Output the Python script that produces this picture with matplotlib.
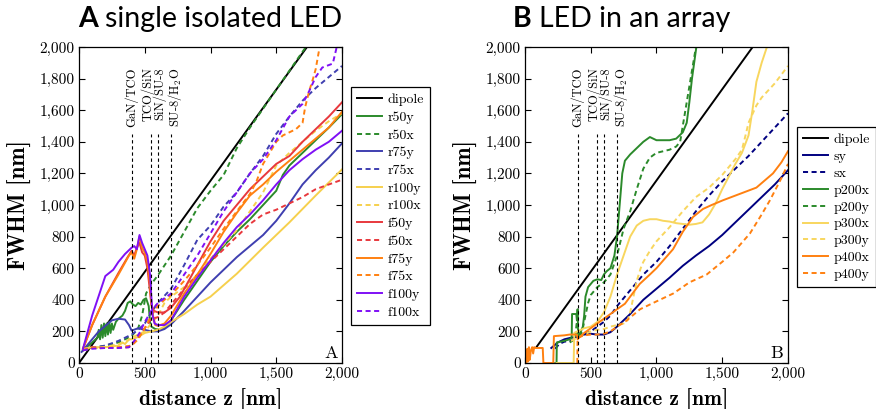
import matplotlib
matplotlib.use("Agg")
import matplotlib.pyplot as plt
from matplotlib.ticker import FuncFormatter, MultipleLocator

plt.rcParams['font.family'] = 'cmr10'
plt.rcParams['axes.formatter.use_mathtext'] = True
plt.rcParams['mathtext.fontset'] = 'cm'

GREEN = '#2b8a2b'
BLUE = '#3f3fb0'
YELLOW = '#f6d04d'
RED = '#e8383d'
ORANGE = '#ff8010'
PURPLE = '#7f10f5'
NAVY = '#000080'
LYELLOW = '#f8d65e'

# ---------------- panel A: single isolated LED ----------------
dipoleA_x = [0, 2000]
dipoleA_y = [0, 2307]

r50y_x = [30, 100, 140, 150, 160, 170, 180, 190, 200, 210, 220, 230, 240, 250, 260, 280, 300, 330, 350, 370,
          390, 410, 430, 450, 470, 490, 510, 530, 540, 550, 580, 620, 660, 700, 800, 900, 1000, 1100, 1200,
          1300, 1400, 1500, 1550, 1600, 1700, 1800, 1900, 2000]
r50y_y = [80, 130, 160, 210, 150, 240, 160, 250, 170, 250, 180, 260, 190, 250, 210, 260, 280, 300, 330, 380,
          390, 370, 360, 380, 370, 400, 410, 360, 260, 230, 215, 210, 230, 270, 400, 520, 640, 740, 830,
          910, 1000, 1090, 1190, 1250, 1330, 1410, 1490, 1575]
r50x_x = [30, 100, 200, 300, 400, 450, 480, 510, 550, 600, 700, 800, 900, 1000, 1100, 1200, 1300, 1400,
          1500, 1600, 1700, 1760]
r50x_y = [80, 95, 110, 130, 170, 220, 300, 440, 500, 555, 680, 830, 980, 1090, 1190, 1360, 1490, 1610,
          1730, 1850, 1970, 2040]
r75y_x = [20, 80, 150, 250, 300, 350, 380, 400, 450, 500, 550, 600, 650, 700, 800, 900, 1000, 1100, 1200,
          1300, 1400, 1500, 1600, 1700, 1800, 1900, 2000]
r75y_y = [70, 130, 200, 270, 280, 275, 240, 205, 220, 210, 200, 200, 215, 245, 330, 420, 510, 590, 670,
          740, 810, 900, 1010, 1130, 1220, 1300, 1390]
r75x_x = [30, 100, 200, 300, 400, 450, 500, 550, 600, 700, 800, 900, 1000, 1100, 1200, 1300, 1400, 1500,
          1600, 1700, 1800, 1900, 2000]
r75x_y = [85, 95, 110, 140, 180, 210, 250, 320, 380, 470, 620, 780, 870, 990, 1080, 1200, 1310, 1450,
          1560, 1660, 1740, 1810, 1880]
r100y_x = [40, 100, 200, 300, 330, 350, 380, 400, 450, 500, 550, 600, 650, 700, 800, 900, 1000, 1200,
           1400, 1600, 1800, 2000]
r100y_y = [90, 100, 100, 110, 130, 120, 150, 150, 165, 190, 200, 210, 230, 260, 310, 370, 420, 565,
           730, 890, 1060, 1225]
r100x_x = [40, 200, 350, 400, 500, 600, 650, 700, 800, 900, 1000, 1100, 1200, 1300, 1400, 1500, 1600,
           1700, 1800, 1900, 2000]
r100x_y = [90, 100, 130, 160, 200, 300, 380, 420, 480, 560, 660, 750, 840, 960, 1080, 1250, 1330,
           1400, 1470, 1530, 1580]
f50y_x = [30, 100, 200, 300, 370, 400, 420, 440, 460, 480, 500, 520, 540, 550, 570, 600, 650, 700, 768,
          900, 1000, 1100, 1200, 1300, 1400, 1500, 1600, 1700, 1800, 1900, 2000]
f50y_y = [90, 240, 420, 570, 670, 710, 680, 730, 760, 700, 680, 600, 450, 370, 330, 320, 320, 350, 420,
          620, 770, 900, 1000, 1100, 1180, 1260, 1310, 1400, 1480, 1560, 1650]
f50x_x = [30, 100, 200, 300, 380, 420, 460, 500, 550, 600, 650, 700, 800, 900, 1000, 1100, 1200, 1300,
          1400, 1500, 1600, 1700, 1800, 1900, 2000]
f50x_y = [80, 100, 95, 95, 100, 130, 170, 220, 280, 290, 320, 370, 470, 560, 640, 720, 800, 880,
          940, 970, 1010, 1050, 1100, 1130, 1160]
f75y_x = [30, 100, 200, 300, 380, 400, 420, 440, 460, 480, 500, 520, 540, 550, 565, 580, 600, 650, 700,
          800, 900, 1000, 1100, 1200, 1300, 1400, 1500, 1600, 1700, 1800, 1900, 2000]
f75y_y = [90, 240, 420, 560, 680, 700, 660, 720, 800, 730, 700, 640, 500, 380, 290, 240, 235, 250, 300,
          440, 560, 690, 830, 950, 1060, 1130, 1210, 1280, 1350, 1420, 1490, 1590]
f75x_x = [30, 100, 200, 300, 400, 450, 500, 550, 600, 650, 700, 800, 900, 1000, 1100, 1200, 1300, 1350,
          1400, 1450, 1500, 1550, 1600, 1650, 1700, 1720, 1750, 1780, 1800, 1830, 1850]
f75x_y = [80, 95, 95, 100, 110, 150, 220, 300, 360, 400, 430, 520, 620, 730, 850, 960, 1070, 1150,
          1260, 1330, 1400, 1440, 1460, 1480, 1520, 1620, 1720, 1800, 1860, 2000, 2100]
f100y_x = [30, 100, 200, 260, 300, 350, 400, 420, 440, 460, 480, 500, 520, 540, 550, 560, 575, 600, 650,
           700, 800, 900, 1000, 1100, 1200, 1300, 1400, 1500, 1600, 1700, 1800, 1900, 2000]
f100y_y = [90, 300, 550, 590, 640, 690, 730, 740, 720, 810, 760, 720, 680, 560, 420, 300, 250, 240, 240,
           270, 420, 540, 650, 760, 860, 940, 1030, 1130, 1220, 1290, 1350, 1400, 1470]
f100x_x = [30, 100, 200, 300, 380, 420, 460, 500, 550, 600, 650, 700, 800, 900, 1000, 1100, 1200, 1300,
           1400, 1500, 1600, 1700, 1750, 1800, 1850, 1930, 1960, 1980]
f100x_y = [80, 90, 95, 95, 100, 140, 190, 260, 330, 380, 410, 440, 560, 680, 820, 960, 1080, 1200,
           1290, 1410, 1560, 1640, 1720, 1810, 1870, 1895, 2000, 2100]

# ---------------- panel B: LED in an array ----------------
dipoleB_x = [90, 2000]
dipoleB_y = [104, 2310]

sy_x = [200, 250, 300, 350, 400, 450, 500, 550, 600, 650, 700, 750, 800, 900, 1000, 1100, 1200, 1300,
        1400, 1500, 1600, 1700, 1800, 1900, 2000]
sy_y = [95, 130, 150, 160, 165, 180, 185, 180, 180, 195, 230, 270, 310, 400, 470, 540, 615, 680,
        740, 810, 890, 970, 1050, 1130, 1220]
sx_x = [230, 260, 300, 350, 400, 450, 500, 550, 600, 650, 700, 750, 800, 900, 1000, 1100, 1200, 1300,
        1400, 1500, 1600, 1700, 1800, 1900, 2000]
sx_y = [90, 120, 135, 140, 160, 185, 200, 230, 260, 300, 360, 410, 460, 560, 640, 740, 850, 960,
        1060, 1150, 1230, 1310, 1400, 1490, 1580]
p200x_x = [230, 240, 242, 300, 340, 355, 358, 390, 395, 400, 405, 420, 440, 450, 460, 480, 500, 520, 550,
           580, 600, 620, 650, 680, 700, 720, 740, 760, 780, 800, 850, 900, 950, 1000, 1100, 1150, 1200,
           1230, 1250, 1270, 1300, 1320]
p200x_y = [0, 0, 130, 140, 150, 160, 310, 310, 270, 340, 170, 190, 230, 300, 420, 480, 500, 520, 530,
           525, 560, 580, 600, 680, 800, 1000, 1200, 1280, 1300, 1320, 1360, 1400, 1430, 1410, 1410, 1420,
           1460, 1520, 1650, 1800, 1980, 2100]
p200y_x = [340, 360, 380, 398, 402, 420, 440, 460, 480, 500, 550, 600, 650, 700, 750, 800, 850, 900, 950,
           1000, 1050, 1100, 1150, 1180, 1200, 1230, 1260, 1300]
p200y_y = [130, 140, 150, 290, 160, 170, 220, 300, 380, 430, 480, 510, 560, 680, 850, 960, 1100, 1230,
           1300, 1330, 1340, 1350, 1370, 1400, 1500, 1650, 1800, 2000]
p300x_x = [240, 370, 375, 400, 450, 500, 550, 600, 650, 700, 750, 800, 850, 900, 950, 1000, 1050, 1100,
           1150, 1200, 1250, 1300, 1350, 1400, 1450, 1500, 1550, 1600, 1650, 1700, 1730, 1760, 1800, 1840,
           1860]
p300x_y = [0, 0, 190, 200, 220, 230, 260, 320, 420, 560, 680, 800, 870, 900, 910, 910, 900, 895,
           885, 880, 875, 880, 890, 940, 1010, 1100, 1180, 1260, 1330, 1440, 1600, 1780, 1900, 2000,
           2050]
p300y_x = [350, 400, 450, 500, 550, 600, 650, 700, 750, 780, 800, 820, 850, 880, 900, 950, 1000, 1100,
           1200, 1300, 1400, 1500, 1600, 1650, 1680, 1700, 1760, 1800, 1900, 2000]
p300y_y = [140, 160, 180, 200, 210, 215, 230, 240, 250, 270, 320, 400, 520, 600, 640, 710, 770, 860,
           960, 1050, 1110, 1190, 1290, 1350, 1450, 1520, 1630, 1680, 1770, 1880]
p400x_x = [0, 8, 12, 18, 24, 30, 36, 45, 55, 62, 70, 80, 95, 135, 140, 215, 220, 300, 340, 395,
           400, 410, 450, 500, 550, 600, 650, 700, 760, 800, 872, 950, 1000, 1126, 1200, 1278, 1354,
           1420, 1506, 1633, 1760, 1886, 1950, 2000]
p400x_y = [0, 70, 5, 90, 10, 100, 20, 80, 100, 60, 100, 95, 95, 95, 0, 0, 170, 175, 180, 180,
           150, 160, 190, 220, 250, 280, 310, 340, 375, 420, 500, 560, 600, 720, 830, 924, 975,
           1000, 1030, 1070, 1110, 1200, 1270, 1340]
p400y_x = [398, 400, 450, 500, 550, 600, 650, 700, 760, 875, 1000, 1128, 1250, 1382, 1500, 1585, 1711,
           1800, 1863, 1950, 2000]
p400y_y = [0, 160, 175, 180, 180, 185, 200, 230, 260, 340, 390, 440, 510, 560, 640, 700, 820,
           940, 1030, 1170, 1260]

interfaces = [400, 550, 600, 700]
interface_names = ['GaN/TCO', 'TCO/SiN', 'SiN/SU-8', 'SU-8/H$_2$O']
name_pos = [398, 520, 612, 730]

DASH = (0, (2.6, 1.8))
LW = 1.4

fig = plt.figure(figsize=(8.76, 4.09), dpi=100)
axA = fig.add_axes([0.0902, 0.1125, 0.3002, 0.7726])
axB = fig.add_axes([0.5993, 0.1125, 0.3002, 0.7726])

seriesA = [
    (dipoleA_x, dipoleA_y, 'k', '-', 'dipole'),
    (r50y_x, r50y_y, GREEN, '-', 'r50y'),
    (r50x_x, r50x_y, GREEN, DASH, 'r50x'),
    (r75y_x, r75y_y, BLUE, '-', 'r75y'),
    (r75x_x, r75x_y, BLUE, DASH, 'r75x'),
    (r100y_x, r100y_y, YELLOW, '-', 'r100y'),
    (r100x_x, r100x_y, YELLOW, DASH, 'r100x'),
    (f50y_x, f50y_y, RED, '-', 'f50y'),
    (f50x_x, f50x_y, RED, DASH, 'f50x'),
    (f75y_x, f75y_y, ORANGE, '-', 'f75y'),
    (f75x_x, f75x_y, ORANGE, DASH, 'f75x'),
    (f100y_x, f100y_y, PURPLE, '-', 'f100y'),
    (f100x_x, f100x_y, PURPLE, DASH, 'f100x'),
]
seriesB = [
    (dipoleB_x, dipoleB_y, 'k', '-', 'dipole'),
    (sy_x, sy_y, NAVY, '-', 'sy'),
    (sx_x, sx_y, NAVY, DASH, 'sx'),
    (p200x_x, p200x_y, GREEN, '-', 'p200x'),
    (p200y_x, p200y_y, GREEN, DASH, 'p200y'),
    (p300x_x, p300x_y, LYELLOW, '-', 'p300x'),
    (p300y_x, p300y_y, LYELLOW, DASH, 'p300y'),
    (p400x_x, p400x_y, ORANGE, '-', 'p400x'),
    (p400y_x, p400y_y, ORANGE, DASH, 'p400y'),
]

comma = FuncFormatter(lambda v, p: '{:,.0f}'.format(v))

for ax, series, letter in [(axA, seriesA, 'A'), (axB, seriesB, 'B')]:
    for x, y, c, ls, lab in series:
        ax.plot(x, y, color=c, linestyle=ls, linewidth=LW, label=lab)
    for xi in interfaces:
        ax.plot([xi, xi], [0, 1450], color='k', linestyle=(0, (3, 2.5)), linewidth=0.8)
    for xp, name in zip(name_pos, interface_names):
        ax.text(xp, 1870, name, rotation=90, ha='center', va='top', fontsize=9,
                math_fontfamily='cm')
    ax.set_xlim(0, 2000)
    ax.set_ylim(0, 2000)
    ax.xaxis.set_major_locator(MultipleLocator(500))
    ax.yaxis.set_major_locator(MultipleLocator(200))
    ax.xaxis.set_major_formatter(comma)
    ax.yaxis.set_major_formatter(comma)
    ax.tick_params(direction='in', length=4, width=0.8, top=True, right=True, labelsize=11, pad=3)
    for s in ax.spines.values():
        s.set_linewidth(0.9)
    ax.set_xlabel('distance z [nm]', fontsize=15.5, family='cmb10')
    ax.set_ylabel('FWHM [nm]', fontsize=16.5, family='cmb10')
    ax.xaxis.set_label_coords(0.5, -0.078)
    ax.yaxis.set_label_coords(-0.18, 0.5)
    ax.xaxis.label.set_va('top')
    ax.text(0.983, 0.016, letter, transform=ax.transAxes, ha='right', va='baseline', fontsize=13)

legA = axA.legend(loc='upper left', bbox_to_anchor=(0.4007, 0.787), bbox_transform=fig.transFigure,
                  fontsize=10, handlelength=1.75, labelspacing=0.36, handletextpad=0.4,
                  borderpad=0.45, fancybox=False, edgecolor='k', framealpha=1, borderaxespad=0)
legB = axB.legend(loc='upper left', bbox_to_anchor=(0.9098, 0.6895), bbox_transform=fig.transFigure,
                  fontsize=10, handlelength=1.75, labelspacing=0.3, handletextpad=0.4,
                  borderpad=0.45, fancybox=False, edgecolor='k', framealpha=1, borderaxespad=0)
for leg in (legA, legB):
    leg.get_frame().set_linewidth(0.9)

for xpos, bold, rest in [(78 / 876, 'A', 'single isolated LED'), (513 / 876, 'B', 'LED in an array')]:
    t = fig.text(xpos, 1 - 27 / 409, bold, fontsize=20.5, family='Lato', weight='bold', va='baseline')
    axA.annotate(rest, xy=(1, 0), xycoords=t, xytext=(5, 0), textcoords='offset points',
                 fontsize=20.5, family='Lato', va='bottom', annotation_clip=False)

fig.savefig('out.png', dpi=100)
